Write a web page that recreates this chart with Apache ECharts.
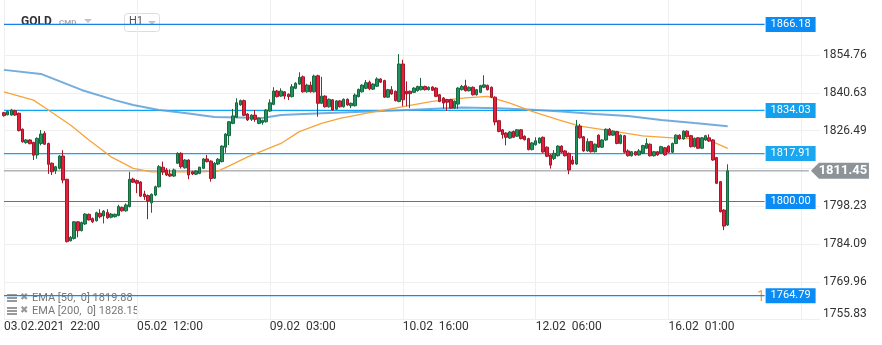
<!DOCTYPE html>
<html><head><meta charset="utf-8">
<script src="https://cdn.jsdelivr.net/npm/echarts@6.0.0/dist/echarts.min.js"></script>
<style>html,body{margin:0;padding:0;background:#fff}#c{width:882px;height:345px}</style>
</head><body><div id="c"></div><script>
// ---- data ----
const tickLabels = ['03.02.2021  22:00','05.02  12:00','09.02  03:00','10.02  16:00','12.02  06:00','16.02  01:00','17.02  13:00'];
const yGridValues = [1755.83,1769.96,1784.09,1798.23,1812.36,1826.49,1840.63,1854.76];
const yLabelValues = [1755.83,1769.96,1784.09,1798.23,1826.49,1840.63,1854.76];
const levels = [1866.18,1834.03,1817.91,1800.00,1764.79];
const lastPrice = 1811.45;
const ema50Last = 1819.88;
const ema200Last = 1828.15;

const open = [
1833.2,1832.4,1832.3,1833.9,1833.0,1827.0,1822.0,1823.0,1822.1,1817.4,
1821.7,1825.5,1821.7,1814.3,1811.5,1812.4,1817.0,1808.3,1785.3,1786.2,
1792.4,1789.1,1791.6,1795.2,1793.6,1792.8,1795.6,1794.6,1795.9,1794.1,
1794.3,1794.8,1797.8,1796.5,1798.1,1808.4,1807.8,1807.3,1802.8,1802.2,
1799.5,1802.4,1805.5,1812.8,1811.8,1810.3,1809.5,1814.3,1818.0,1812.6,
1815.5,1811.1,1810.2,1810.5,1812.4,1815.9,1815.1,1808.7,1814.0,1814.9,
1820.3,1824.6,1829.2,1831.5,1836.1,1837.7,1832.7,1830.7,1832.3,1829.2,
1829.5,1829.8,1833.8,1836.3,1841.3,1839.4,1841.0,1840.1,1839.2,1842.3,
1843.9,1846.6,1841.0,1843.5,1841.0,1847.0,1836.7,1839.4,1835.4,1838.0,
1834.5,1837.6,1835.4,1838.2,1835.8,1835.8,1839.2,1841.0,1842.3,1844.6,
1842.0,1843.1,1845.8,1845.2,1839.0,1841.8,1841.2,1837.4,1851.4,1841.2,
1841.2,1840.8,1841.4,1841.8,1843.0,1841.8,1842.8,1842.4,1839.9,1838.7,
1838.1,1838.1,1834.9,1836.4,1841.8,1843.3,1841.4,1842.7,1839.9,1840.8,
1842.7,1843.4,1842.7,1839.0,1830.2,1826.8,1825.6,1823.7,1826.2,1824.4,
1826.8,1824.4,1823.5,1819.4,1821.2,1821.9,1824.0,1820.3,1817.4,1816.1,
1817.1,1820.7,1818.9,1818.0,1815.5,1814.0,1828.2,1824.2,1818.9,1822.4,
1818.6,1824.8,1820.3,1823.0,1827.0,1824.8,1826.1,1821.7,1824.6,1818.9,
1817.1,1818.6,1817.4,1818.0,1819.9,1821.4,1817.1,1818.6,1818.0,1820.1,
1820.7,1818.4,1821.7,1824.8,1823.4,1826.3,1824.6,1820.5,1823.8,1819.9,
1823.0,1823.8,1823.0,1816.4,1807.4,1796.8,1791.2];
const close = [
1832.1,1833.6,1834.2,1832.3,1826.5,1822.3,1823.0,1821.6,1817.3,1823.6,
1825.2,1821.4,1813.9,1811.1,1813.0,1817.0,1808.0,1785.0,1786.6,1792.4,
1789.1,1792.1,1795.3,1793.1,1792.4,1795.8,1794.3,1796.4,1793.9,1795.3,
1795.2,1798.1,1796.5,1798.7,1808.3,1807.2,1806.8,1802.0,1801.8,1800.2,
1802.7,1805.5,1813.0,1811.0,1809.9,1809.5,1811.8,1818.0,1813.0,1815.5,
1809.9,1810.3,1811.4,1812.8,1815.9,1814.9,1808.6,1814.3,1815.8,1820.7,
1825.2,1829.8,1832.0,1836.9,1837.7,1832.2,1830.5,1832.3,1830.7,1831.1,
1830.3,1834.2,1836.9,1841.3,1839.2,1841.3,1839.4,1839.2,1842.9,1844.2,
1846.4,1841.0,1843.5,1841.0,1846.9,1836.7,1839.4,1835.4,1838.2,1834.2,
1837.6,1835.4,1838.2,1836.1,1836.7,1839.8,1841.9,1843.5,1844.4,1842.1,
1843.9,1845.8,1844.6,1839.0,1841.8,1840.2,1837.7,1851.4,1838.0,1840.2,
1840.3,1842.4,1843.0,1843.0,1841.8,1842.7,1841.6,1839.3,1837.4,1836.8,
1837.1,1834.9,1837.5,1842.4,1843.0,1841.4,1842.7,1839.9,1841.8,1843.3,
1843.6,1841.8,1839.0,1829.7,1826.2,1825.0,1824.0,1826.0,1824.0,1826.8,
1823.5,1823.1,1819.4,1821.9,1822.7,1823.7,1818.5,1816.9,1813.6,1818.0,
1820.7,1818.4,1817.1,1811.8,1814.0,1828.2,1823.8,1818.9,1822.4,1818.6,
1821.4,1820.3,1823.0,1827.0,1824.8,1826.3,1821.7,1824.8,1818.4,1817.1,
1818.6,1817.4,1818.9,1820.9,1821.7,1817.1,1818.6,1817.4,1820.5,1817.4,
1818.4,1821.7,1824.8,1823.4,1826.3,1824.2,1820.5,1823.6,1819.9,1823.8,
1824.6,1822.6,1815.5,1806.8,1796.2,1790.8,1811.45];
const low = [
1831.7,1832.2,1832.1,1832.0,1826.2,1822.0,1821.6,1821.4,1815.5,1816.0,
1821.0,1821.2,1810.3,1809.9,1810.3,1812.0,1806.8,1784.7,1785.1,1785.8,
1786.6,1788.8,1791.2,1792.9,1792.0,1792.5,1793.7,1791.8,1793.5,1793.7,
1794.0,1794.5,1796.2,1796.2,1797.8,1806.9,1803.1,1801.7,1800.6,1793.4,
1795.8,1802.0,1805.2,1809.9,1809.5,1809.2,1809.2,1814.0,1812.3,1812.3,
1808.3,1809.9,1809.9,1810.2,1812.1,1814.6,1807.4,1808.4,1813.6,1814.6,
1818.2,1821.1,1828.9,1831.2,1835.8,1831.9,1830.1,1830.1,1829.8,1828.9,
1828.7,1829.5,1833.5,1836.0,1838.9,1839.1,1838.2,1837.9,1838.9,1842.0,
1843.6,1840.7,1840.7,1840.7,1840.7,1831.7,1836.4,1835.1,1835.1,1833.9,
1834.2,1835.1,1835.1,1835.8,1834.9,1835.5,1838.9,1840.7,1842.0,1841.6,
1841.7,1842.8,1844.3,1838.7,1838.7,1839.9,1837.4,1837.1,1835.6,1835.6,
1834.9,1840.5,1841.1,1841.5,1841.5,1841.5,1841.3,1839.0,1837.1,1834.7,
1833.9,1834.6,1834.6,1834.6,1841.5,1841.1,1841.1,1839.6,1839.6,1840.5,
1842.4,1841.5,1838.7,1828.5,1825.9,1823.5,1821.0,1823.4,1823.7,1824.1,
1823.2,1822.8,1819.1,1819.1,1820.9,1821.6,1818.2,1816.6,1812.3,1815.5,
1816.8,1818.1,1816.8,1810.2,1813.7,1813.7,1823.5,1818.6,1818.6,1818.3,
1818.3,1820.0,1820.0,1822.7,1824.5,1824.5,1821.4,1821.4,1818.1,1816.8,
1816.8,1817.1,1817.1,1817.7,1819.6,1816.8,1816.8,1817.1,1817.7,1817.1,
1818.1,1818.1,1821.4,1823.1,1823.1,1823.9,1820.2,1820.2,1819.6,1819.6,
1822.7,1822.3,1815.2,1806.5,1795.9,1789.3,1790.9];
const high = [
1833.5,1834.0,1834.6,1834.3,1833.2,1827.3,1823.3,1823.3,1822.3,1824.0,
1826.7,1826.3,1822.0,1814.6,1813.3,1817.3,1819.2,1808.5,1787.1,1792.7,
1792.7,1792.5,1795.6,1795.5,1794.0,1796.2,1797.1,1796.8,1797.1,1795.7,
1795.5,1798.8,1798.1,1799.3,1811.1,1808.9,1808.2,1807.6,1804.0,1802.6,
1803.0,1805.9,1813.6,1814.9,1812.5,1812.0,1812.3,1818.4,1818.4,1815.8,
1815.8,1811.5,1811.7,1813.0,1816.2,1817.4,1815.4,1814.7,1816.2,1821.0,
1825.5,1830.1,1834.6,1838.6,1838.1,1838.1,1833.0,1832.6,1834.2,1831.4,
1830.6,1834.5,1838.2,1842.7,1841.7,1842.3,1841.3,1840.4,1843.9,1844.6,
1848.3,1847.1,1844.0,1844.8,1847.4,1847.4,1846.6,1839.7,1838.5,1838.3,
1837.9,1837.9,1838.5,1838.5,1837.0,1840.4,1842.2,1843.8,1845.4,1845.2,
1844.2,1846.4,1846.1,1845.5,1842.1,1843.1,1841.5,1855.1,1853.0,1844.9,
1841.5,1842.7,1843.3,1846.2,1843.3,1843.0,1843.1,1842.7,1840.2,1839.0,
1838.4,1838.4,1837.8,1842.7,1843.6,1845.5,1843.0,1843.0,1842.1,1843.6,
1847.2,1843.7,1843.0,1839.3,1830.5,1827.1,1825.9,1826.3,1826.5,1827.1,
1827.1,1824.7,1823.8,1822.2,1824.0,1824.0,1824.3,1820.6,1817.7,1819.2,
1821.0,1821.0,1819.2,1818.3,1817.0,1830.5,1829.0,1824.5,1823.6,1822.7,
1821.7,1825.1,1823.3,1827.3,1827.5,1826.6,1826.4,1825.1,1824.9,1819.5,
1818.9,1818.9,1819.6,1821.2,1823.6,1821.7,1818.9,1818.9,1820.8,1820.4,
1821.0,1822.0,1825.1,1825.1,1826.6,1826.6,1824.9,1823.9,1824.1,1824.1,
1824.9,1825.1,1823.3,1816.7,1807.7,1797.1,1813.9];

// EMA readings [candle index, value]
const ema50 = [[0,1841.0],[8,1837.9],[12,1834.2],[18,1828.6],[23,1823.0],[29,1816.7],[35,1812.4],[40,1811.1],
[53,1811.1],[58,1811.4],[61,1813.3],[66,1816.7],[71,1819.5],[75,1821.7],[80,1826.1],[86,1829.2],[91,1831.1],
[99,1833.2],[107,1835.2],[116,1837.4],[125,1838.7],[131,1839.3],[137,1836.8],[143,1833.7],[150,1830.6],
[156,1828.2],[164,1826.5],[173,1824.5],[183,1823.6],[190,1823.3],[192,1822.3],[196,1819.88]];
const ema200 = [[0,1849.2],[10,1847.7],[21,1841.7],[30,1837.9],[35,1836.1],[42,1834.2],[49,1833.1],[57,1831.6],
[70,1831.2],[75,1832.3],[86,1833.0],[99,1833.6],[111,1834.3],[124,1835.1],[134,1834.9],[143,1834.3],
[151,1833.6],[160,1832.7],[169,1832.0],[178,1830.5],[187,1829.3],[196,1828.15]];

const nCat = 222;
const categories = Array.from({length: nCat}, (_, i) => String(i));
const labelStep = 36;
const levelEndIndex = 206;
const lastEndIndex = 218;

// ---- styles ----
const levelLineColors = ['#1a7fe6','#10a4f5','#10a4f5','#0f8cf2','#0f8cf2'];
const levelBoxColors = ['#0b8cf5','#12a0ef','#1aa7ef','#0b8cf5','#0b8cf5'];
const FONT = 'Roboto, "Noto Sans", sans-serif';

const chart = echarts.init(document.getElementById('c'), null, {renderer: 'canvas'});

const candleData = open.map((o, i) => [o, close[i], low[i], high[i]]);

// each horizontal level: a two-point line series with an end label tag
const levelSeries = levels.map((v, k) => ({
  name: 'level' + k, type: 'line', z: 1, silent: true, showSymbol: false, symbol: 'none',
  data: [[0, v], [levelEndIndex, v]],
  color: levelLineColors[k],
  lineStyle: {color: levelLineColors[k], width: 1.2, type: 'solid', opacity: 1},
  endLabel: {show: true, distance: 1, formatter: () => v.toFixed(2), color: '#fff',
    backgroundColor: levelBoxColors[k], padding: [2, 5, 2, 5], fontSize: 11, fontFamily: FONT}
}));
levelSeries.push({
  name: 'last', type: 'line', z: 1, silent: true, showSymbol: false, symbol: 'none',
  data: [[0, lastPrice], [lastEndIndex, lastPrice]],
  color: '#8a8f93',
  lineStyle: {color: '#8a8f93', width: 1, type: 'solid'}
});

chart.setOption({
  animation: false,
  backgroundColor: '#ffffff',
  grid: {left: 4, right: 62, top: 0, bottom: 25},
  xAxis: {
    type: 'category', data: categories, boundaryGap: false,
    axisLine: {show: false}, axisTick: {show: false},
    axisLabel: {
      interval: labelStep - 1, align: 'left', margin: 1, color: '#333', fontSize: 12, fontFamily: FONT,
      showMaxLabel: false,
      formatter: (v, idx) => (idx % labelStep === 0 && tickLabels[idx / labelStep]) ? tickLabels[idx / labelStep] : ''
    },
    splitLine: {show: true, interval: labelStep - 1, lineStyle: {color: '#efefef', width: 1}}
  },
  yAxis: {
    type: 'value', position: 'right', min: 1755.70, max: 1875.32, scale: true,
    axisLine: {show: false},
    axisTick: {show: false, customValues: yGridValues},
    axisLabel: {
      customValues: yLabelValues, color: '#333', fontSize: 12, fontFamily: FONT, margin: 3,
      formatter: v => v === yLabelValues[0] ? '{b|' + v.toFixed(2) + '}' : v.toFixed(2),
      rich: {b: {color: '#333', fontSize: 12, fontFamily: FONT, padding: [0, 0, 11, 0]}}
    },
    splitLine: {show: true, lineStyle: {color: '#efefef', width: 1}}
  },
  series: levelSeries.concat([
    {
      name: 'EMA200', type: 'line', data: ema200, showSymbol: false, z: 2, silent: true,
      lineStyle: {color: '#5c9fd6', width: 2, opacity: 0.85}
    },
    {
      name: 'EMA50', type: 'line', data: ema50, showSymbol: false, z: 2, silent: true,
      lineStyle: {color: '#f7a43a', width: 1.3}
    },
    {
      name: 'GOLD', type: 'candlestick', data: candleData, barWidth: 3, clip: false, z: 3,
      itemStyle: {color: '#21915f', color0: '#e3213b', borderColor: '#17683f', borderColor0: '#a3172c', borderWidth: 1},
      markPoint: {
        silent: true, z: 10, animation: false,
        data: [{
          xAxis: lastEndIndex, yAxis: lastPrice, value: lastPrice,
          symbol: 'path://M0,8L8,0L58,0L58,16L8,16Z', symbolSize: [58, 16], symbolKeepAspect: false,
          symbolOffset: [31, 0],
          itemStyle: {color: '#8d9499'},
          label: {show: true, position: 'inside', offset: [3, 0], formatter: lastPrice.toFixed(2),
            color: '#fff', fontWeight: 'bold', fontSize: 13, fontFamily: FONT}
        }]
      }
    }
  ]),
  graphic: [
    {type: 'text', left: 21, top: 16, style: {text: 'GOLD', fill: '#333', font: 'bold 12px ' + FONT}},
    {type: 'text', left: 59, top: 19, style: {text: 'CMD', fill: '#aaa', font: 'bold 8px ' + FONT}},
    {type: 'polygon', shape: {points: [[84, 19], [92, 19], [88, 23]]}, style: {fill: '#c4c4c4'}},
    {type: 'rect', shape: {x: 124.5, y: 13.5, width: 35, height: 18, r: 3}, style: {fill: '#fff', stroke: '#dddddd', lineWidth: 1}},
    {type: 'text', left: 129, top: 16, style: {text: 'H1', fill: '#555', font: '11px ' + FONT}},
    {type: 'polygon', shape: {points: [[148, 21], [156, 21], [152, 25]]}, style: {fill: '#c4c4c4'}},
    {type: 'text', left: 757, top: 290, z: 0, style: {text: '1', fill: '#f3a33a', font: '14px ' + FONT}},
    // legend rows
    {type: 'rect', shape: {x: 7, y: 294, width: 10, height: 2}, style: {fill: '#999'}},
    {type: 'rect', shape: {x: 7, y: 297, width: 10, height: 2}, style: {fill: '#999'}},
    {type: 'rect', shape: {x: 7, y: 300, width: 10, height: 2}, style: {fill: '#999'}},
    {type: 'text', left: 20, top: 292, style: {text: '\u2716', fill: '#999', font: '10px "DejaVu Sans"'}},
    {type: 'text', left: 32, top: 293, style: {text: 'EMA [50,  0] ' + ema50Last.toFixed(2), fill: '#777', font: '11px ' + FONT}},
    {type: 'rect', shape: {x: 7, y: 307, width: 10, height: 2}, style: {fill: '#999'}},
    {type: 'rect', shape: {x: 7, y: 310, width: 10, height: 2}, style: {fill: '#999'}},
    {type: 'rect', shape: {x: 7, y: 313, width: 10, height: 2}, style: {fill: '#999'}},
    {type: 'text', left: 20, top: 305, style: {text: '\u2716', fill: '#999', font: '10px "DejaVu Sans"'}},
    {type: 'text', left: 32, top: 306, style: {text: 'EMA [200,  0] ' + ema200Last.toFixed(2), fill: '#777', font: '11px ' + FONT}}
  ]
});
</script></body></html>
